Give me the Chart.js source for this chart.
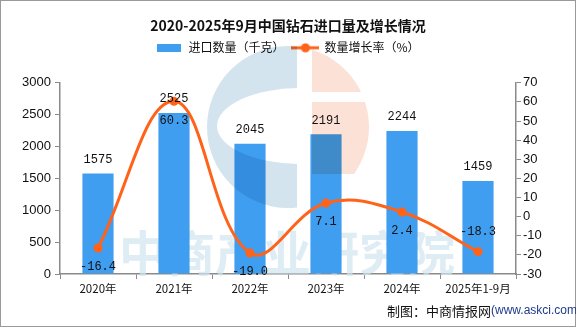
<!DOCTYPE html>
<html>
<head>
<meta charset="utf-8">
<script src="https://cdn.jsdelivr.net/npm/chart.js@4/dist/chart.umd.min.js"></script>
<style>
  html, body { margin: 0; padding: 0; background: #fff; }
  #wrap { width: 576px; height: 327px; position: relative; }
</style>
</head>
<body>
<div id="wrap"><canvas id="c" width="576" height="327"></canvas></div>
<script>
const categories = ['2020年', '2021年', '2022年', '2023年', '2024年', '2025年1-9月'];
const importVolume = [1575, 2525, 2045, 2191, 2244, 1459];
const growthRate = [-16.4, 60.3, -19.0, 7.1, 2.4, -18.3];
const growthLabelAbove = [false, false, false, false, false, true];
const leftTicks = [0, 500, 1000, 1500, 2000, 2500, 3000];
const rightTicks = [-30, -20, -10, 0, 10, 20, 30, 40, 50, 60, 70];

const BAR_COLOR = '#409EF0';
const LINE_COLOR = '#FF6319';
const AXIS_COLOR = '#8a8a8a';

function makeBarIcon() {
  const c = document.createElement('canvas');
  c.width = 24; c.height = 8;
  const x = c.getContext('2d');
  x.fillStyle = BAR_COLOR; x.fillRect(0, 0, 24, 8);
  return c;
}
function makeLineIcon() {
  const c = document.createElement('canvas');
  c.width = 28; c.height = 10;
  const x = c.getContext('2d');
  x.strokeStyle = LINE_COLOR; x.lineWidth = 3;
  x.beginPath(); x.moveTo(0, 5); x.lineTo(28, 5); x.stroke();
  x.fillStyle = LINE_COLOR;
  x.beginPath(); x.arc(14, 5, 4.5, 0, Math.PI * 2); x.fill();
  return c;
}

const LEGEND_EXTRA_BOTTOM = 19;

const backgroundPlugin = {
  id: 'bg',
  beforeLayout(chart) {
    const lg = chart.legend;
    if (lg && !lg.__patched) {
      const orig = lg.fit;
      lg.fit = function () {
        orig.call(this);
        this.height += LEGEND_EXTRA_BOTTOM;
      };
      lg.__patched = true;
    }
  },
  beforeDraw(chart) {
    const ctx = chart.ctx;
    ctx.save();
    ctx.fillStyle = '#fff';
    ctx.fillRect(0, 0, chart.width, chart.height);
    ctx.strokeStyle = '#9a9a9a';
    ctx.lineWidth = 1;
    ctx.strokeRect(0.5, 0.5, chart.width - 1, chart.height - 1);
    ctx.restore();
  },
  beforeDatasetsDraw(chart) {
    const ctx = chart.ctx;
    ctx.save();
    ctx.fillStyle = 'rgba(208,228,240,0.7)';
    ctx.font = 'bold 48px "Noto Sans CJK SC"';
    ctx.textAlign = 'center';
    ctx.textBaseline = 'middle';
    ctx.fillText('中商产业研究院', 287, 253);
    ctx.restore();
  },
  afterDatasetDraw(chart, args) {
    if (args.index !== 0) return;
    const ctx = chart.ctx;
    ctx.save();
    ctx.globalCompositeOperation = 'multiply';
    const cx = 288, cy = 127, R = 81;
    // blue C
    ctx.save();
    ctx.beginPath();
    ctx.rect(0, 0, 297, 400);
    ctx.clip();
    ctx.beginPath();
    ctx.arc(cx, cy, R, 0, Math.PI * 2);
    ctx.ellipse(300, 126, 83, 38, 0, 0, Math.PI * 2, true);
    ctx.fillStyle = '#D3E4EE';
    ctx.fill('evenodd');
    ctx.restore();
    // pink part
    ctx.save();
    ctx.beginPath();
    ctx.rect(312, 0, 200, 92);
    ctx.rect(312, 102, 200, 72);
    ctx.clip();
    ctx.beginPath();
    ctx.arc(cx, cy, R, 0, Math.PI * 2);
    ctx.fillStyle = '#FCE1D6';
    ctx.fill();
    ctx.restore();
    ctx.restore();
  },
  afterDatasetsDraw(chart) {
    const ctx = chart.ctx;
    ctx.save();
    ctx.font = '12px "Liberation Mono"';
    ctx.fillStyle = '#111';
    ctx.textAlign = 'center';
    ctx.textBaseline = 'middle';
    const barMeta = chart.getDatasetMeta(0);
    barMeta.data.forEach((el, i) => {
      ctx.fillText(String(importVolume[i]), el.x, el.y - 14);
    });
    const lineMeta = chart.getDatasetMeta(1);
    lineMeta.data.forEach((el, i) => {
      const dy = growthLabelAbove[i] ? -20 : 19;
      ctx.fillText(growthRate[i].toFixed(1), el.x, el.y + dy);
    });
    // source
    ctx.textAlign = 'left';
    ctx.font = '13px "Noto Sans CJK SC"';
    ctx.fillStyle = '#111';
    const s1 = '制图：中商情报网';
    ctx.fillText(s1, 387, 311);
    const w1 = ctx.measureText(s1).width;
    ctx.font = '12px "Liberation Sans"';
    ctx.fillStyle = '#1F3A8A';
    ctx.fillText('(www.askci.com)', 387 + w1, 311);
    ctx.restore();
  }
};

new Chart(document.getElementById('c'), {
  data: {
    labels: categories,
    datasets: [
      {
        type: 'bar',
        label: '进口数量（千克）',
        data: importVolume,
        backgroundColor: BAR_COLOR,
        yAxisID: 'y',
        order: 1,
        barPercentage: 0.82,
        categoryPercentage: 0.5
      },
      {
        type: 'line',
        label: '数量增长率（%）',
        data: growthRate,
        borderColor: LINE_COLOR,
        backgroundColor: LINE_COLOR,
        borderWidth: 3,
        pointRadius: 4.5,
        pointBackgroundColor: LINE_COLOR,
        pointBorderWidth: 0,
        tension: 0.4,
        yAxisID: 'y1',
        order: 0
      }
    ]
  },
  options: {
    responsive: false,
    animation: false,
    devicePixelRatio: 1,
    layout: { padding: { top: 0, left: 0, right: 0, bottom: 0 } },
    plugins: {
      title: {
        display: true,
        text: '2020-2025年9月中国钻石进口量及增长情况',
        font: { family: '"Noto Sans CJK SC"', size: 14, weight: 'bold' },
        color: '#111',
        padding: { top: 17, bottom: 0 }
      },
      legend: {
        display: true,
        labels: {
          usePointStyle: true,
          pointStyleWidth: 26,
          padding: 8,
          color: '#111',
          font: { family: '"Noto Sans CJK SC"', size: 12 },
          generateLabels(chart) {
            return chart.data.datasets.map((ds, i) => ({
              text: ds.label,
              pointStyle: i === 0 ? makeBarIcon() : makeLineIcon(),
              datasetIndex: i,
              hidden: false,
              fontColor: '#111',
              lineWidth: 0
            }));
          }
        }
      },
      tooltip: { enabled: false }
    },
    scales: {
      x: {
        offset: true,
        grid: { display: true, drawOnChartArea: false, offset: true, tickLength: 5, color: AXIS_COLOR },
        border: { color: AXIS_COLOR, width: 1.5 },
        ticks: { color: '#111', font: { family: '"Noto Sans CJK SC"', size: 11.5 }, padding: 3, maxRotation: 0, autoSkip: false },
        afterFit(scale) { scale.height = 53; }
      },
      y: {
        position: 'left',
        min: 0, max: 3000,
        afterBuildTicks(scale) { scale.ticks = leftTicks.map(v => ({ value: v })); },
        grid: { display: true, drawOnChartArea: false, tickLength: 5, color: AXIS_COLOR },
        border: { color: AXIS_COLOR, width: 1.5 },
        ticks: { color: '#111', font: { family: '"Liberation Sans"', size: 13 }, padding: 4, callback: v => String(v) },
        afterFit(scale) { scale.width = 60; }
      },
      y1: {
        position: 'right',
        min: -30, max: 70,
        afterBuildTicks(scale) { scale.ticks = rightTicks.map(v => ({ value: v })); },
        grid: { display: true, drawOnChartArea: false, tickLength: 5, color: AXIS_COLOR },
        border: { color: AXIS_COLOR, width: 1.5 },
        ticks: { color: '#111', font: { family: '"Liberation Sans"', size: 13 }, padding: 2, callback: v => String(v) },
        afterFit(scale) { scale.width = 60; }
      }
    }
  },
  plugins: [backgroundPlugin]
});
</script>
</body>
</html>
